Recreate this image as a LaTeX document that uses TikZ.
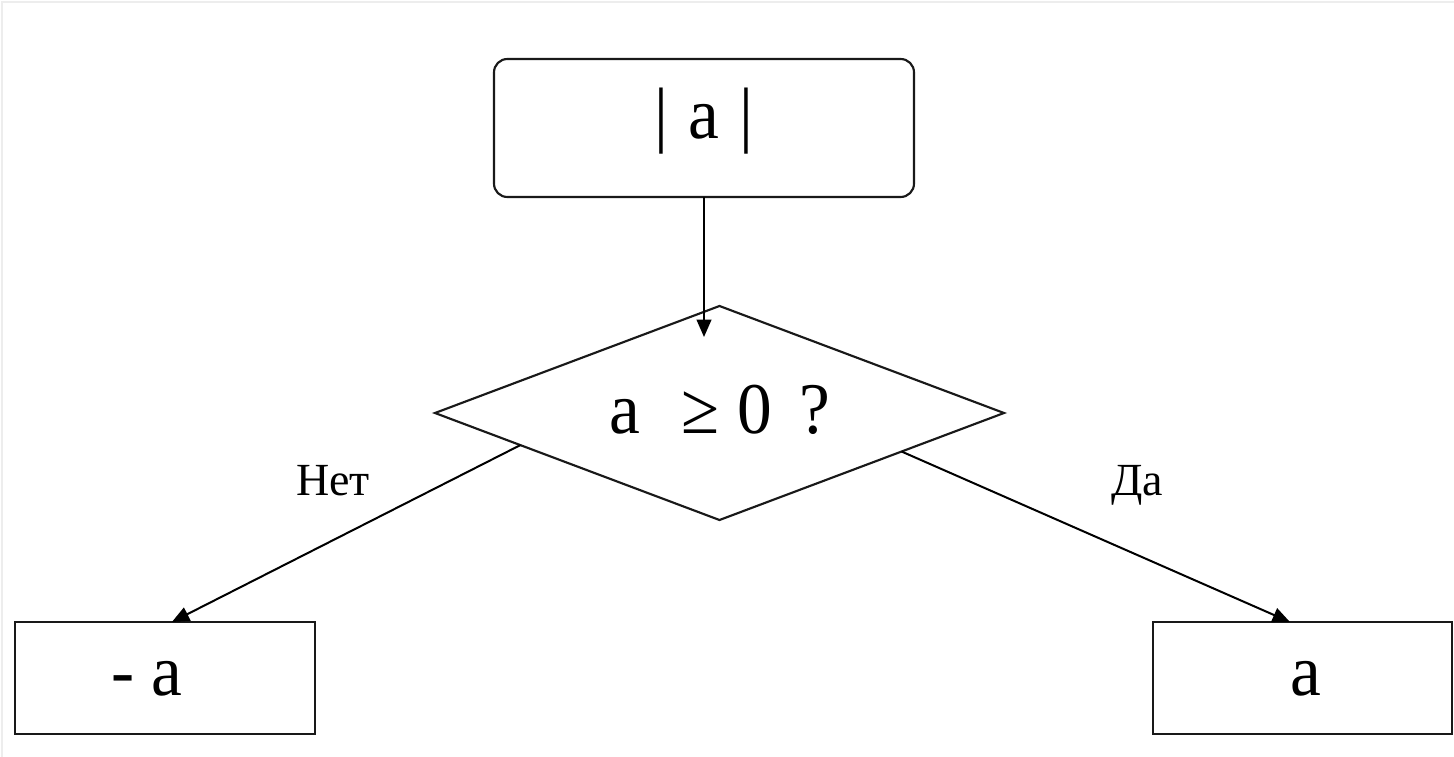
\documentclass[tikz,border=0pt]{standalone}
\usepackage{fontspec}
\setmainfont{Liberation Serif}
\usetikzlibrary{shapes.geometric,arrows.meta,calc}
\newlength\pxu
\setlength\pxu{0.75pt}
\tikzset{
  shapeline/.style={draw=black!90, line width=1.6pt, inner sep=0pt, outer sep=0pt},
  rbox/.style={shapeline, rectangle, rounded corners=10pt},
  pbox/.style={shapeline, rectangle},
  decision/.style={shapeline, diamond},
  bigtext/.style={inner sep=0pt, font=\fontsize{52}{60}\selectfont},
  lbl/.style={inner sep=0pt, font=\fontsize{34.5}{40}\selectfont},
  conn/.style={draw=black, line width=1.5pt, -{Triangle[length=13pt,width=11pt]}}
}
\begin{document}
\begin{tikzpicture}[x=0.75pt,y=-0.75pt]
\useasboundingbox (0,0) rectangle (1454,757);
\fill[white] (0,0) rectangle (1454,757);
\draw[black!7, line width=1.5pt] (2,757) -- (2,2) -- (1454,2);

% shapes
\node[rbox, minimum width=315pt, minimum height=103.5pt] (top) at (704,128) {};
\node[decision, minimum width=426.75pt, minimum height=160.5pt] (dia) at (719.5,413) {};
\node[pbox, minimum width=225pt, minimum height=84pt] (lbox) at (165,678) {};
\node[pbox, minimum width=224.25pt, minimum height=84pt] (rbox) at (1302.5,678) {};

% texts
\node[bigtext, anchor=base] (ttop) at (704,138) {\scalebox{1}[1.05]{|\hspace{20\pxu}a\hspace{20\pxu}|}};
\node[bigtext, anchor=base] (tdia) at (720,433) {\scalebox{1}[1.05]{a\hspace{41\pxu}≥\hspace{18\pxu}0\hspace{28\pxu}?}};
\node[bigtext, anchor=base west] (tleft) at (111,695) {\scalebox{1}[1.05]{- a}};
\node[bigtext, anchor=base] (tright) at (1306,695) {\scalebox{1}[1.05]{a}};
\node[lbl, anchor=base] (no) at (333,495) {Нет};
\node[lbl, anchor=base] (yes) at (1137,495) {Да};

% connectors
\coordinate (tin) at (704,337);
\draw[conn] (top.south) -- (tin);
\draw[conn] ($(dia.west)!0.3!(dia.south)$) -- ($(lbox.north west)!0.523!(lbox.north east)$);
\draw[conn] ($(dia.east)!0.36!(dia.south)$) -- ($(rbox.north west)!0.458!(rbox.north east)$);
\end{tikzpicture}
\end{document}
